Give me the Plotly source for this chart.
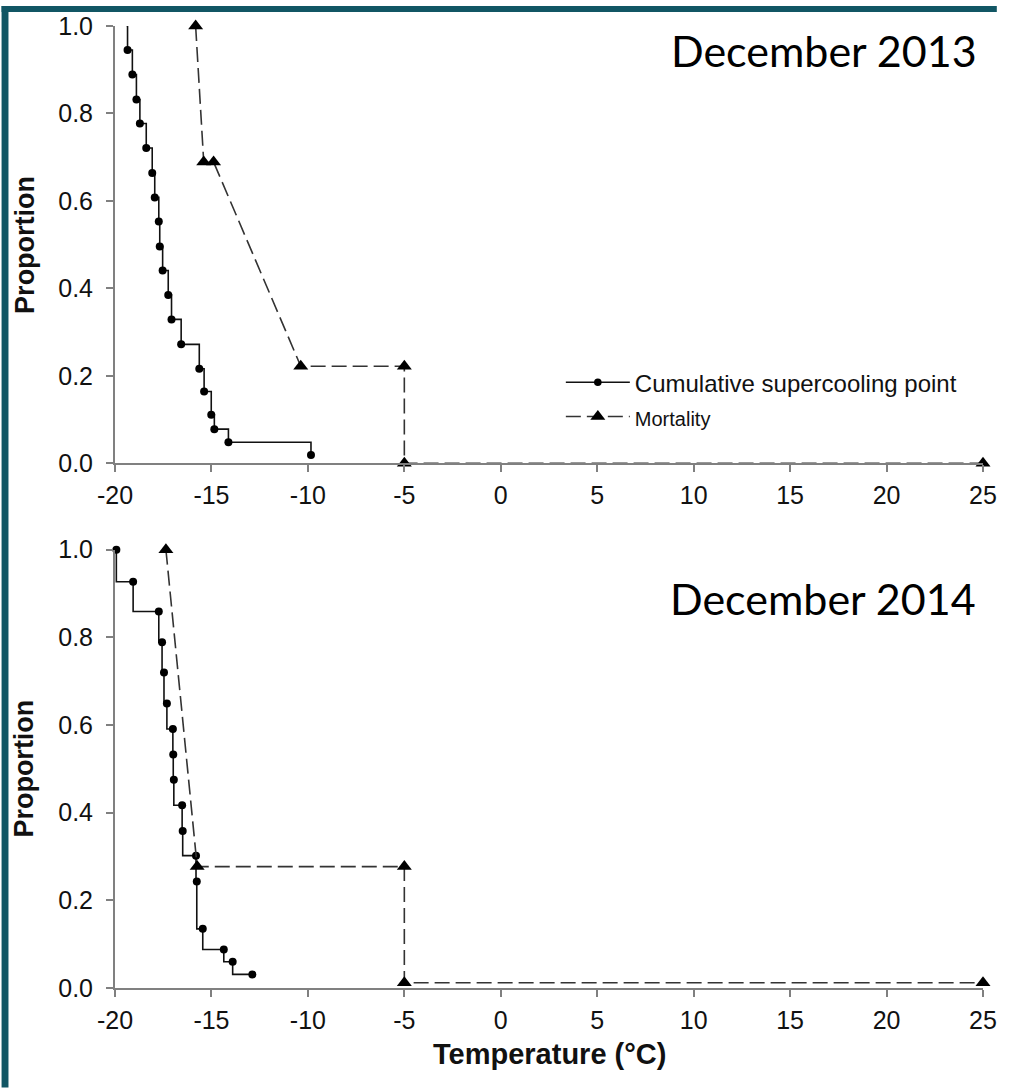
import plotly.graph_objects as go

# ---------------- data ----------------
# December 2013
scp13_x = [-19.40, -19.35, -19.10, -18.89, -18.71, -18.38, -18.07, -17.94, -17.73, -17.68,
           -17.53, -17.24, -17.07, -16.57, -15.63, -15.38, -15.01, -14.85, -14.12, -9.84]
scp13_y = [1.0, 0.945, 0.889, 0.832, 0.777, 0.721, 0.664, 0.608, 0.553, 0.496,
           0.441, 0.385, 0.329, 0.272, 0.216, 0.164, 0.111, 0.078, 0.048, 0.019]
mort13_x = [-15.82, -15.40, -14.89, -10.37, -5, -5, 25]
mort13_y = [1.0, 0.689, 0.689, 0.222, 0.222, 0.0, 0.0]

# December 2014
scp14_x = [-19.93, -19.06, -17.73, -17.56, -17.46, -17.31, -17.00, -16.98, -16.95, -16.52,
           -16.49, -15.80, -15.76, -15.45, -14.36, -13.90, -12.88]
scp14_y = [1.0, 0.927, 0.859, 0.789, 0.720, 0.649, 0.591, 0.533, 0.475, 0.417,
           0.358, 0.302, 0.243, 0.135, 0.088, 0.060, 0.031]
mort14_x = [-17.36, -15.74, -5, -5, 25]
mort14_y = [1.0, 0.277, 0.277, 0.012, 0.012]

x_ticks = [-20, -15, -10, -5, 0, 5, 10, 15, 20, 25]
x_ticklabels = ["-20", "-15", "-10", "-5", "0", "5", "10", "15", "20", "25"]
y_ticks = [0.0, 0.2, 0.4, 0.6, 0.8, 1.0]
y_ticklabels = ["0.0", "0.2", "0.4", "0.6", "0.8", "1.0"]
panel_titles = ["December 2013", "December 2014"]
series_names = ["Cumulative supercooling point", "Mortality"]

# ---------------- figure ----------------
W, H = 1009, 1088
ML, MR, MT, MB = 115, 14, 20, 100
PW, PH = W - ML - MR, H - MT - MB
TEAL = "#115664"
AX = "#808080"
FONT = "Arial, Liberation Sans, sans-serif"

def px_to_paper_x(px):
    return (px - ML) / PW

def py_to_paper_y(py):
    return (H - MB - py) / PH

fig = go.Figure()

# top panel
fig.add_trace(go.Scatter(
    x=scp13_x, y=scp13_y, mode="lines+markers", line_shape="hv",
    line=dict(color="#111", width=1.6),
    marker=dict(symbol="circle", color="#000", opacity=1, line=dict(width=0),
                size=[0] + [8] * (len(scp13_x) - 1)),
    name=series_names[0], xaxis="x", yaxis="y", cliponaxis=False))
fig.add_trace(go.Scatter(
    x=mort13_x, y=mort13_y, mode="lines+markers",
    line=dict(color="#333", width=1.6, dash="15px,6px"),
    marker=dict(symbol="triangle-up", color="#000", size=13),
    name='<span style="font-size:20px">' + series_names[1] + '</span>',
    xaxis="x", yaxis="y", cliponaxis=False))

# bottom panel
fig.add_trace(go.Scatter(
    x=scp14_x, y=scp14_y, mode="lines+markers", line_shape="vh",
    line=dict(color="#111", width=1.6),
    marker=dict(symbol="circle", color="#000", size=8, line=dict(width=0)),
    name=series_names[0], showlegend=False, xaxis="x2", yaxis="y2", cliponaxis=False))
fig.add_trace(go.Scatter(
    x=mort14_x, y=mort14_y, mode="lines+markers",
    line=dict(color="#333", width=1.6, dash="15px,6px"),
    marker=dict(symbol="triangle-up", color="#000", size=13),
    name=series_names[1], showlegend=False, xaxis="x2", yaxis="y2", cliponaxis=False))

xax = dict(range=[-20, 25], tickvals=x_ticks, ticktext=x_ticklabels, showline=True,
           linecolor=AX, linewidth=2, ticks="outside", ticklen=7, tickwidth=1.5,
           tickcolor=AX, showgrid=False, zeroline=False,
           tickfont=dict(family=FONT, size=25, color="#111"), ticklabelstandoff=2)
yax = dict(range=[0, 1], tickvals=y_ticks, ticktext=y_ticklabels, showline=True,
           linecolor=AX, linewidth=2, ticks="outside", ticklen=7, tickwidth=1.5,
           tickcolor=AX, showgrid=False, zeroline=False,
           tickfont=dict(family=FONT, size=25, color="#111"), ticklabelstandoff=8)

top_lo = py_to_paper_y(460)
bot_hi = py_to_paper_y(547)

ann = []
ann.append(dict(text=panel_titles[0], x=px_to_paper_x(834), y=py_to_paper_y(45),
                xref="paper", yref="paper", showarrow=False, xanchor="center",
                yanchor="middle",
                font=dict(family="Lato, Open Sans, sans-serif", size=43, color="#000")))
ann.append(dict(text=panel_titles[1], x=px_to_paper_x(833), y=py_to_paper_y(596),
                xref="paper", yref="paper", showarrow=False, xanchor="center",
                yanchor="middle",
                font=dict(family="Lato, Open Sans, sans-serif", size=43, color="#000")))
for cy in (240, 767):
    ann.append(dict(text="<b>Proportion</b>", x=px_to_paper_x(23), y=py_to_paper_y(cy),
                    xref="paper", yref="paper", showarrow=False, textangle=-90,
                    xanchor="center", yanchor="middle",
                    font=dict(family=FONT, size=27, color="#111")))
ann.append(dict(text="<b>Temperature (°C)</b>", x=px_to_paper_x(556), y=py_to_paper_y(1054),
                xref="paper", yref="paper", showarrow=False, xanchor="center",
                yanchor="middle", font=dict(family=FONT, size=29, color="#111")))

shapes = [
    dict(type="rect", xref="paper", yref="paper", layer="above", line=dict(width=0),
         fillcolor=TEAL, x0=px_to_paper_x(0), x1=px_to_paper_x(7),
         y0=py_to_paper_y(H), y1=py_to_paper_y(0)),
    dict(type="rect", xref="paper", yref="paper", layer="above", line=dict(width=0),
         fillcolor=TEAL, x0=px_to_paper_x(0), x1=px_to_paper_x(W),
         y0=py_to_paper_y(6), y1=py_to_paper_y(0)),
]

fig.update_layout(
    width=W, height=H, margin=dict(l=ML, r=MR, t=MT, b=MB),
    paper_bgcolor="white", plot_bgcolor="white",
    xaxis=dict(xax, domain=[0, 1], anchor="y"),
    yaxis=dict(yax, domain=[top_lo, 1], anchor="x"),
    xaxis2=dict(xax, domain=[0, 1], anchor="y2"),
    yaxis2=dict(yax, domain=[0, bot_hi], anchor="x2"),
    legend=dict(x=px_to_paper_x(567), y=py_to_paper_y(396), xanchor="left", yanchor="middle",
                bgcolor="rgba(0,0,0,0)", font=dict(family=FONT, size=24, color="#111"),
                itemwidth=64, tracegroupgap=0),
    annotations=ann, shapes=shapes, showlegend=True,
)

fig.write_html("out.html", config={"displayModeBar": False},
               post_script="document.body.style.margin='0';document.body.style.overflow='hidden';"
                           "document.documentElement.style.overflow='hidden';")
